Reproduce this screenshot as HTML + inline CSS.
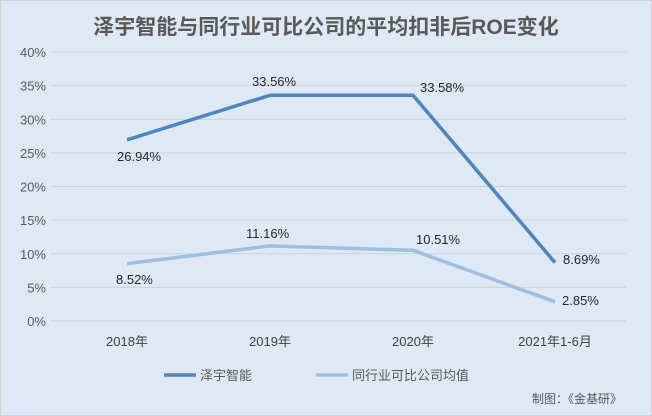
<!DOCTYPE html>
<html><head><meta charset="utf-8"><style>
html,body{margin:0;padding:0;}
body{width:652px;height:416px;overflow:hidden;background:#fff;}
svg{display:block;font-family:"Liberation Sans","Noto Sans CJK SC",sans-serif;}
</style></head><body>
<svg width="652" height="416" viewBox="0 0 652 416">
<rect x="0.5" y="0.5" width="651" height="415" fill="#dee9f5" stroke="#d0d0d0"/>
<text x="326" y="34" text-anchor="middle" font-size="21" font-weight="bold" fill="#595959">泽宇智能与同行业可比公司的平均扣非后ROE变化</text>
<g stroke="#c9d3dd" stroke-width="1">
<line x1="50" x2="626" y1="52" y2="52"/><line x1="50" x2="626" y1="85.6" y2="85.6"/>
<line x1="50" x2="626" y1="119.3" y2="119.3"/><line x1="50" x2="626" y1="152.9" y2="152.9"/>
<line x1="50" x2="626" y1="186.5" y2="186.5"/><line x1="50" x2="626" y1="220.1" y2="220.1"/>
<line x1="50" x2="626" y1="253.8" y2="253.8"/><line x1="50" x2="626" y1="287.4" y2="287.4"/>
<line x1="50" x2="626" y1="321" y2="321"/>
</g>
<g font-size="13" fill="#595959" text-anchor="end">
<text x="46" y="57">40%</text><text x="46" y="90.6">35%</text><text x="46" y="124.3">30%</text>
<text x="46" y="157.9">25%</text><text x="46" y="191.5">20%</text><text x="46" y="225.1">15%</text>
<text x="46" y="258.8">10%</text><text x="46" y="292.4">5%</text><text x="46" y="326">0%</text>
</g>
<g font-size="13" fill="#404040" text-anchor="middle">
<text x="127" y="346">2018年</text><text x="270" y="346">2019年</text>
<text x="413" y="346">2020年</text><text x="555" y="346">2021年1-6月</text>
</g>
<polyline points="127,139.8 270,95.3 413,95.2 555,262.6" fill="none" stroke="#4f86bf" stroke-width="3.5" stroke-linejoin="round"/>
<polyline points="127,263.7 270,245.9 413,250.3 555,301.8" fill="none" stroke="#9dbfe4" stroke-width="3.5" stroke-linejoin="round"/>
<g font-size="13" fill="#262626">
<text x="117" y="161">26.94%</text><text x="252" y="86">33.56%</text>
<text x="420" y="92">33.58%</text><text x="563" y="264">8.69%</text>
<text x="116" y="284">8.52%</text><text x="246" y="238">11.16%</text>
<text x="416" y="244">10.51%</text><text x="562" y="305">2.85%</text>
</g>
<line x1="164" x2="196" y1="375" y2="375" stroke="#4f86bf" stroke-width="3.5"/>
<text x="200" y="380" font-size="13" fill="#595959">泽宇智能</text>
<line x1="316" x2="348" y1="375" y2="375" stroke="#9dbfe4" stroke-width="3.5"/>
<text x="352" y="380" font-size="13" fill="#595959">同行业可比公司均值</text>
<text x="622" y="403" font-size="12" fill="#595959" text-anchor="end">制图：《金基研》</text>
</svg>
</body></html>
